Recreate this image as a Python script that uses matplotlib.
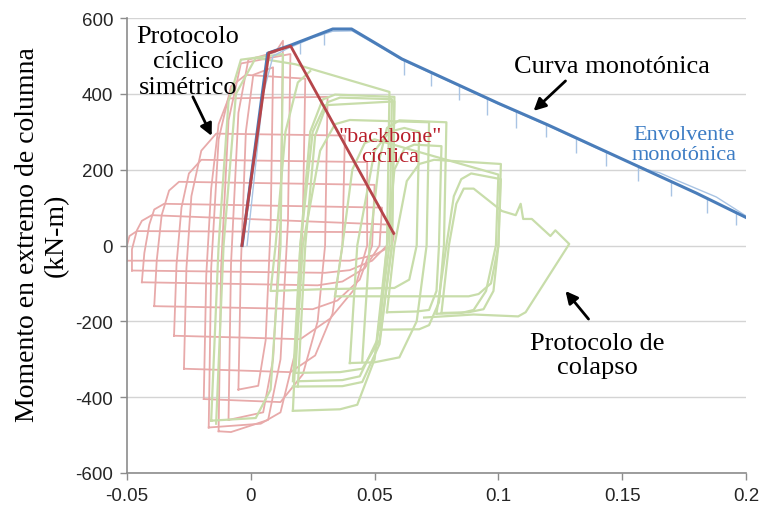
import matplotlib
matplotlib.use("Agg")
import matplotlib.pyplot as plt
import numpy as np

plt.rcParams['axes.unicode_minus'] = False

# ---------------- data (drift, moment kN-m) ----------------
# Monotonic envelope (dark blue)
env_x = [-0.0035, 0.0068, 0.0164, 0.0331, 0.0407, 0.050, 0.061, 0.080, 0.100, 0.120, 0.140, 0.160, 0.180, 0.200]
env_y = [0, 507, 529, 571, 571, 535, 492, 435, 375, 318, 258, 198, 138, 74]

# Monotonic test curve (light blue) + unloading spikes
mono_x = [-0.0015, 0.005, 0.009, 0.015, 0.025, 0.033, 0.041, 0.050, 0.061, 0.080, 0.100, 0.120, 0.140, 0.160, 0.165, 0.172, 0.180, 0.188, 0.200]
mono_y = [0, 400, 500, 520, 548, 565, 566, 532, 490, 433, 373, 316, 256, 200, 192, 172, 150, 128, 78]
spike_x = [0.0197, 0.0297, 0.0619, 0.0728, 0.0841, 0.0953, 0.107, 0.1191, 0.1312, 0.1436, 0.1565, 0.1698, 0.1843, 0.196]
spike_top = [537, 562, 490, 457, 423, 389, 355, 321, 284, 247, 208, 169, 125, 88]
spike_bottom = [505, 530, 450, 420, 385, 345, 310, 285, 245, 210, 170, 130, 85, 55]

# Cyclic backbone (red)
backbone_x = [-0.0036, 0.0073, 0.0161, 0.0577]
backbone_y = [0, 508, 526, 32]

# Symmetric cyclic protocol loops (pink)
P1 = [(-0.005, -380), (-0.004, -50), (-0.002, 300), (0.001, 450), (0.009, 470), (0.008, 50), (0.006, -250), (0.003, -370), (-0.005, -380)]
P2 = [(-0.009, -460), (-0.008, -50), (-0.005, 350), (-0.001, 490), (0.010, 510), (0.013, 540), (0.012, 60), (0.009, -300), (0.005, -440), (-0.009, -460)]
P3 = [(-0.013, -490), (-0.012, -60), (-0.009, 330), (-0.004, 480), (0.016, 505), (0.015, 60), (0.012, -300), (0.007, -460), (-0.008, -492), (-0.013, -490)]
P4 = [(-0.017, -480), (-0.016, -60), (-0.013, 280), (-0.008, 420), (-0.002, 450), (0.022, 440), (0.021, 60), (0.018, -280), (0.012, -440), (0.004, -470), (-0.017, -480)]
P5 = [(-0.019, -405), (-0.018, -80), (-0.016, 150), (-0.013, 320), (-0.009, 388), (0.031, 392), (0.030, 0), (0.027, -200), (0.021, -340), (0.012, -413), (-0.019, -405)]
P6 = [(-0.027, -325), (-0.026, -60), (-0.024, 130), (-0.020, 250), (-0.014, 295), (0.038, 290), (0.037, 0), (0.033, -180), (0.026, -290), (0.016, -334), (-0.027, -325)]
P7 = [(-0.031, -238), (-0.030, -50), (-0.028, 100), (-0.025, 190), (-0.020, 226), (0.047, 220), (0.047, 0), (0.042, -114), (0.032, -193), (0.020, -247), (-0.031, -238)]
P8 = [(-0.039, -160), (-0.038, -40), (-0.036, 80), (-0.033, 145), (-0.029, 168), (0.050, 160), (0.049, 0), (0.044, -90), (0.035, -145), (0.025, -168), (-0.039, -160)]
P9 = [(-0.044, -97), (-0.043, -20), (-0.041, 55), (-0.039, 95), (-0.035, 110), (0.053, 100), (0.052, 0), (0.046, -60), (0.037, -95), (0.027, -105), (-0.044, -97)]
P10 = [(-0.048, -66), (-0.048, -10), (-0.046, 40), (-0.044, 65), (-0.040, 80), (0.056, 55), (0.055, 0), (0.049, -40), (0.040, -65), (0.030, -72), (-0.048, -66)]
P11 = [(-0.050, -40), (-0.050, 0), (-0.049, 25), (-0.046, 38), (0.058, 35), (0.057, 0), (0.050, -25), (0.040, -40), (-0.050, -40)]
pink_cycles = [P1, P2, P3, P4, P5, P6, P7, P8, P9, P10, P11]

# Collapse protocol loops (green)
G1 = [(-0.016, -462), (-0.013, 0), (-0.009, 380), (-0.004, 490), (0.013, 505), (0.012, 0), (0.008, -380), (0.002, -455), (-0.016, -462)]
G2 = [(-0.014, -470), (-0.011, 0), (-0.006, 400), (0.002, 495), (0.018, 478), (0.056, 405), (0.055, 0), (0.050, -300), (0.043, -420), (0.036, -432), (0.017, -436)]
G3 = [(0.017, -436), (0.020, 0), (0.024, 300), (0.029, 385), (0.034, 398), (0.058, 392), (0.057, 0), (0.052, -260), (0.045, -360), (0.037, -371), (0.017, -372)]
G3b = [(0.019, -372), (0.022, 0), (0.026, 290), (0.031, 378), (0.036, 390), (0.057, 386), (0.056, 0), (0.051, -250), (0.044, -345), (0.037, -355), (0.019, -358)]
G4 = [(0.017, -358), (0.020, 0), (0.025, 300), (0.030, 370), (0.058, 380), (0.057, 0), (0.052, -250), (0.045, -325), (0.036, -334), (0.018, -336)]
G5 = [(0.018, -336), (0.021, 0), (0.028, 250), (0.034, 320), (0.040, 331), (0.072, 325), (0.071, 0), (0.067, -200), (0.060, -295), (0.050, -308), (0.040, -310)]
G5b = [(0.040, -310), (0.043, 0), (0.050, 250), (0.056, 300), (0.062, 310), (0.068, 300), (0.067, 0), (0.064, -90), (0.058, -112), (0.030, -115), (0.008, -120), (0.010, 0), (0.014, 300), (0.019, 430), (0.024, 460)]
G6 = [(0.045, -305), (0.048, 0), (0.052, 230), (0.055, 310), (0.060, 330), (0.079, 325), (0.078, 0), (0.076, -150), (0.072, -210), (0.068, -221), (0.052, -222)]
G7 = [(0.052, -222), (0.055, 0), (0.058, 200), (0.062, 255), (0.066, 266), (0.077, 262), (0.076, 0), (0.075, -120), (0.072, -170), (0.067, -174), (0.055, -176)]
G8 = [(0.055, -176), (0.058, 0), (0.063, 170), (0.068, 215), (0.074, 226), (0.101, 215), (0.100, 0), (0.097, -100), (0.092, -128), (0.088, -134), (0.034, -134)]
G9 = [(0.034, -134), (0.037, 0), (0.041, 200), (0.046, 270), (0.050, 280), (0.100, 187), (0.099, 0), (0.095, -120), (0.090, -170), (0.085, -178), (0.075, -180)]
G9b = [(0.075, -180), (0.079, 0), (0.082, 130), (0.085, 175), (0.089, 190), (0.101, 175), (0.100, 0), (0.098, -120), (0.094, -168), (0.088, -176), (0.077, -178)]
G10 = [(0.077, -178), (0.080, 0), (0.083, 110), (0.086, 150), (0.090, 150), (0.1014, 91), (0.107, 80), (0.109, 110), (0.110, 70), (0.1135, 70), (0.121, 25), (0.123, 40), (0.1286, 4), (0.111, -176), (0.108, -187), (0.090, -182), (0.070, -190)]
green_cycles = [G1, G2, G3, G3b, G4, G5, G5b, G6, G7, G8, G9, G9b, G10]

x_ticks = [-0.05, 0, 0.05, 0.1, 0.15, 0.2]
x_ticklabels = ["-0.05", "0", "0.05", "0.1", "0.15", "0.2"]
y_ticks = [-600, -400, -200, 0, 200, 400, 600]
y_ticklabels = ["-600", "-400", "-200", "0", "200", "400", "600"]

# ---------------- figure ----------------
fig = plt.figure(figsize=(7.6, 5.1), dpi=100)
ax = fig.add_axes([127/760, 36/510, 619/760, 455/510])

PINK = '#E8AAAA'
GREEN = '#C8DDAA'
for cyc in pink_cycles:
    xs, ys = zip(*cyc)
    ax.plot(xs, ys, color=PINK, lw=1.3, zorder=2)
for cyc in green_cycles:
    xs, ys = zip(*cyc)
    ax.plot(xs, ys, color=GREEN, lw=1.6, zorder=3)

ax.plot(mono_x, mono_y, color='#A9C4E4', lw=1.0, zorder=4)
ax.vlines(spike_x, spike_bottom, spike_top, color='#A9C4E4', lw=1.0, zorder=4)
ax.plot(env_x, env_y, color='#4A7DBA', lw=2.2, zorder=5)
ax.plot(backbone_x, backbone_y, color='#B5454A', lw=2.0, zorder=6)

ax.set_xlim(-0.05, 0.2)
ax.set_ylim(-600, 600)
ax.set_xticks(x_ticks)
ax.set_xticklabels(x_ticklabels)
ax.set_yticks(y_ticks)
ax.set_yticklabels(y_ticklabels)
for lab in ax.get_xticklabels() + ax.get_yticklabels():
    lab.set_fontfamily('Liberation Sans')
    lab.set_fontsize(13.5)
    lab.set_color('#262626')
ax.tick_params(axis='both', direction='out', color='#8C8C8C', length=5, width=1)
ax.tick_params(axis='x', pad=5)
ax.tick_params(axis='y', pad=5)

ax.grid(axis='y', color='#D4D4D4', lw=1.0, zorder=0)
ax.set_axisbelow(True)
for s in ['top', 'right']:
    ax.spines[s].set_visible(False)
for s in ['left', 'bottom']:
    ax.spines[s].set_color('#8C8C8C')
    ax.spines[s].set_linewidth(1.2)

fig.text(42/760, 1 - 235/510, "Momento en extremo de columna\n(kN-m)", rotation=90,
         ha='center', va='center', family='Liberation Serif', fontsize=20, linespacing=1.2)

serif = 'Liberation Serif'
ax.text(-0.0254, 486, "Protocolo\ncíclico\nsimétrico", ha='center', va='center',
        family=serif, fontsize=19, linespacing=1.2, zorder=10)
ax.text(0.1457, 473, "Curva monotónica", ha='center', va='center', family=serif, fontsize=19, zorder=10)
ax.text(0.175, 267, "Envolvente\nmonotónica", ha='center', va='center', family=serif,
        fontsize=16, color='#3C7CC4', linespacing=1.05, zorder=10)
ax.text(0.0563, 262, "\"backbone\"\ncíclica", ha='center', va='center', family=serif,
        fontsize=16, color='#B81E2A', linespacing=1.05, zorder=10)
ax.text(0.140, -289, "Protocolo de\ncolapso", ha='center', va='center', family=serif,
        fontsize=19, linespacing=1.15, zorder=10)

arrow_kw = dict(arrowstyle='-|>', lw=2, color='black', mutation_scale=18, shrinkA=0, shrinkB=0)
ax.annotate("", xy=(-0.0158, 289), xytext=(-0.0234, 392), arrowprops=arrow_kw, zorder=10)
ax.annotate("", xy=(0.1142, 355), xytext=(0.1271, 434), arrowprops=arrow_kw, zorder=10)
ax.annotate("", xy=(0.1271, -120), xytext=(0.1364, -194), arrowprops=arrow_kw, zorder=10)

fig.savefig("out.png", dpi=100)
